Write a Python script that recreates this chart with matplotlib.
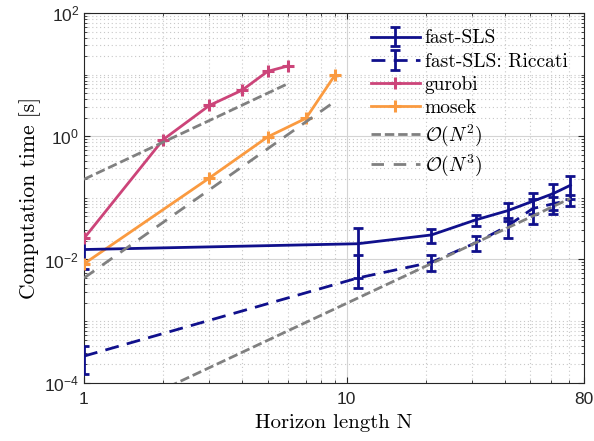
import matplotlib
matplotlib.use('Agg')
import matplotlib.pyplot as plt
import numpy as np
from matplotlib.font_manager import FontProperties
from matplotlib.ticker import FixedLocator, FixedFormatter, NullFormatter

plt.rcParams['font.family'] = ['Liberation Sans', 'DejaVu Sans']

# fast-SLS (media e desvio)
N_sls = [1, 11, 21, 31, 41, 51, 61, 71]
sls_media = [0.0145, 0.018, 0.025, 0.044, 0.062, 0.088, 0.117, 0.16]
sls_desvio = [0.0075, 0.0145, 0.0066, 0.0093, 0.02, 0.033, 0.053, 0.064]

# fast-SLS: Riccati
ric_media = [2.7e-4, 0.005, 0.009, 0.0187, 0.035, 0.067, 0.08, 0.093]
ric_desvio = [1.3e-4, 0.0066, 0.0026, 0.005, 0.0125, 0.029, 0.025, 0.02]

# solvers
N_gurobi = [1, 2, 3, 4, 5, 6]
t_gurobi = [0.022, 0.88, 3.16, 5.6, 11.3, 13.9]
N_mosek = [1, 3, 5, 7, 9]
t_mosek = [0.0085, 0.21, 0.975, 1.96, 9.7]

# retas de referencia (extremos)
N_ref2a = [1, 6]
t_ref2a = [0.2, 7.2]
N_ref3 = [1, 9]
t_ref3 = [0.005, 3.65]
N_ref2b = [1, 71]
t_ref2b = [1.95e-5, 0.098]

azul = '#10108c'
rosa = '#cc4479'
laranja = '#fa9a40'
cinza = '#808080'

fig = plt.figure(figsize=(5.94, 4.41), dpi=100)
ax = fig.add_axes([0.1414, 0.1322, 0.8418, 0.8383])
ax.set_xscale('log')
ax.set_yscale('log')

# barra inferior negativa nao aparece no log
def limites(media, desvio):
    media = np.array(media)
    desvio = np.array(desvio)
    baixo = np.where(desvio < media, desvio, 0.0)
    return [baixo, desvio]

h1 = ax.errorbar(N_sls, sls_media, yerr=limites(sls_media, sls_desvio), color=azul, lw=2,
                 capsize=3.5, capthick=2, elinewidth=2, label='fast-SLS', zorder=3)
h2 = ax.errorbar(N_sls, ric_media, yerr=limites(ric_media, ric_desvio), color=azul, lw=2,
                 capsize=3.5, capthick=2, elinewidth=2, label='fast-SLS: Riccati', zorder=3)
h2[0].set_dashes((5, 3))
h3, = ax.plot(N_gurobi, t_gurobi, color=rosa, lw=2, marker='+', ms=8, mew=2.2, label='gurobi', zorder=3)
h4, = ax.plot(N_mosek, t_mosek, color=laranja, lw=2, marker='+', ms=8, mew=2.2, label='mosek', zorder=3)
h5, = ax.plot(N_ref2a, t_ref2a, color=cinza, lw=2, dashes=(3.4, 1.4), label=r'$\mathcal{O}(N^2)$', zorder=4)
h6, = ax.plot(N_ref3, t_ref3, color=cinza, lw=2, dashes=(4.5, 3.5), label=r'$\mathcal{O}(N^3)$', zorder=4)
ax.plot(N_ref2b, t_ref2b, color=cinza, lw=2, dashes=(3.4, 1.4), zorder=4)

ax.set_xlim(1, 80)
ax.set_ylim(1e-4, 1e2)

ax.xaxis.set_major_locator(FixedLocator([1, 10, 80]))
ax.xaxis.set_major_formatter(FixedFormatter(['1', '10', '80']))
xmin = [k * 10.0**d for d in range(0, 2) for k in range(2, 10) if k * 10.0**d < 80]
ax.xaxis.set_minor_locator(FixedLocator(xmin))
ax.xaxis.set_minor_formatter(NullFormatter())

ax.yaxis.set_major_locator(FixedLocator([1e-4, 1e-2, 1e0, 1e2]))
ax.yaxis.set_major_formatter(FixedFormatter([r'$\mathdefault{10^{-4}}$', r'$\mathdefault{10^{-2}}$',
                                             r'$\mathdefault{10^{0}}$', r'$\mathdefault{10^{2}}$']))
ymin = [k * 10.0**d for d in range(-4, 2) for k in range(1, 10)
        if not (k == 1 and d % 2 == 0)]
ax.yaxis.set_minor_locator(FixedLocator(ymin))
ax.yaxis.set_minor_formatter(NullFormatter())

ax.grid(which='major', color='#d4d4d4', linestyle='-', linewidth=0.8)
ax.grid(which='minor', color='#c8c8c8', linestyle=(0, (1, 2.5)), linewidth=0.8)
ax.set_axisbelow(True)

ax.tick_params(which='both', direction='in', top=True, right=True, colors='#262626',
               labelsize=12.5)
ax.tick_params(axis='x', which='major', pad=7)
ax.tick_params(which='major', length=4.5, width=0.8)
ax.tick_params(which='minor', length=2.5, width=0.6)
for s in ax.spines.values():
    s.set_color('#262626')
    s.set_linewidth(0.8)

ax.set_xlabel('Horizon length N', fontsize=15, family='cmr10', labelpad=5)
ax.set_ylabel('Computation time [s]', fontsize=15.5, family='cmr10', labelpad=2)

leg = ax.legend([h1, h2, h3, h4, h5, h6],
                ['fast-SLS', 'fast-SLS: Riccati', 'gurobi', 'mosek',
                 r'$\mathcal{O}(N^2)$', r'$\mathcal{O}(N^3)$'],
                loc='upper right', frameon=False, handlelength=2.5, handletextpad=0.25,
                labelspacing=0.27, borderaxespad=0.45,
                prop=FontProperties(family='cmr10', size=14, math_fontfamily='cm'))

fig.savefig('out.png', dpi=100)
